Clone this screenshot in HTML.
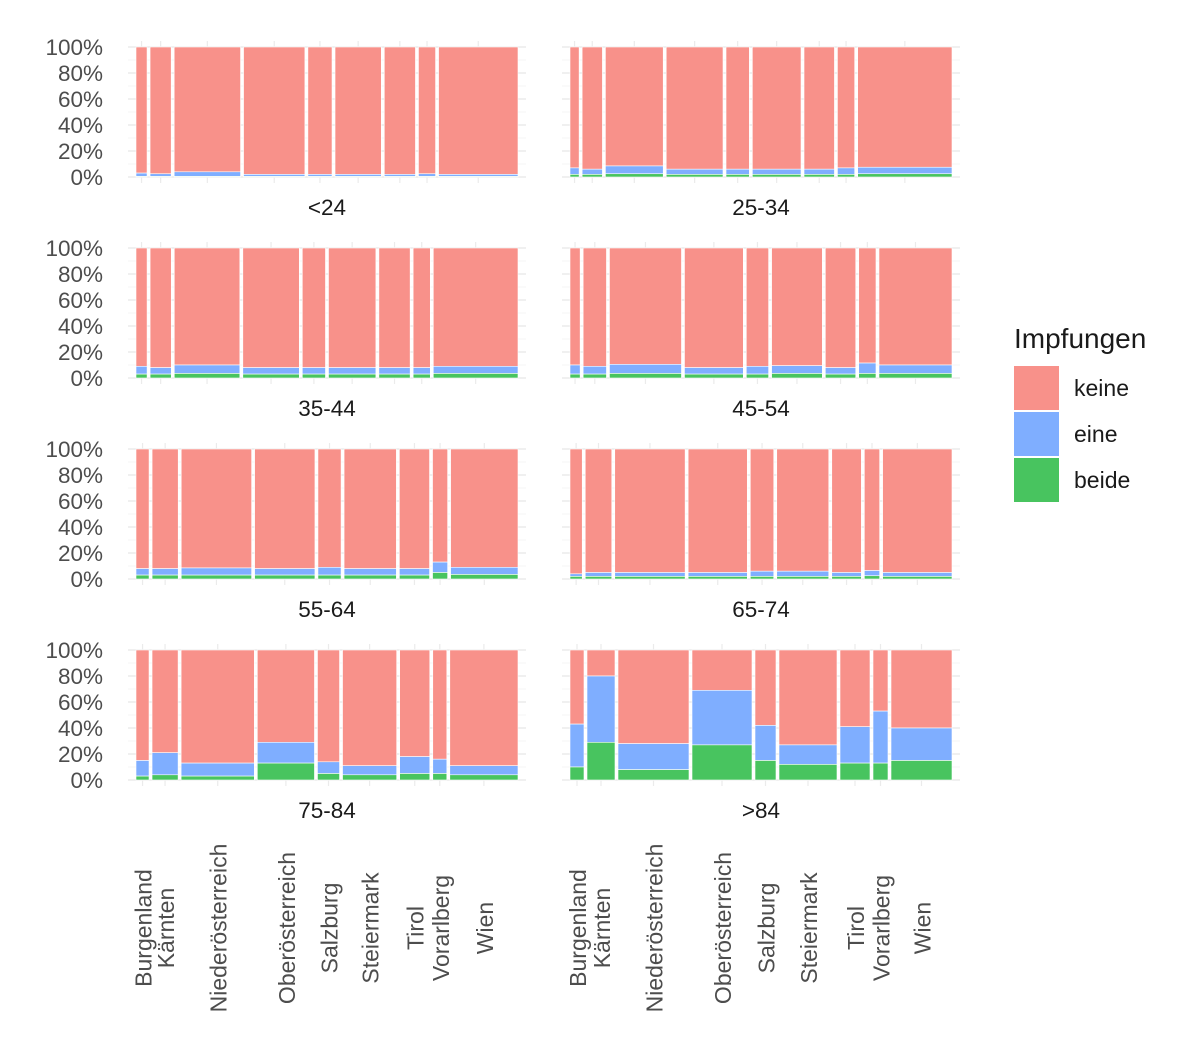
<!DOCTYPE html>
<html><head><meta charset="utf-8"><style>
body{margin:0;background:#fff;font-family:"Liberation Sans",sans-serif;}
svg text{font-family:"Liberation Sans",sans-serif;}
</style></head><body>
<svg id="c" width="1200" height="1052"></svg>
<script>
const states = ["Burgenland","Kärnten","Niederösterreich","Oberösterreich","Salzburg","Steiermark","Tirol","Vorarlberg","Wien"];
const facets = ["<24","25-34","35-44","45-54","55-64","65-74","75-84",">84"];
const widths = [
 [11,21,66,61,24,46,31,17,79],
 [9,20,57,56,23,48,30,17,93],
 [11,21,65,56,23,47,31,17,84],
 [10,23,71,58,22,50,30,17,72],
 [13,26,70,60,23,52,30,15,67],
 [12,26,69,58,23,51,29,15,68],
 [13,26,73,57,22,54,30,14,68],
 [14,28,71,60,21,58,30,15,61]
];
const beide = [
 [0.5,0.5,0.5,0.5,0.5,0.5,0.5,0.5,0.5],
 [2,2,2.5,2,2,2,2,2,2.5],
 [3,3,3.5,3,3,3,3,3,3.5],
 [3,3,3.5,3,3,3.5,3,3.5,3.5],
 [3,3,3,3,3,3,3,5,3.5],
 [2,2,2,2,2,2,2,2.5,2],
 [3,4,3,13,5,4,5,5,4],
 [10,29,8,27,15,12,13,13,15]
];
const eine = [
 [2.5,2,3.5,1.5,1.5,1.5,1.5,2,1.5],
 [5,4,6,4,4,4,4,5,5],
 [6,5,6.5,5,5,5,5,5,5.5],
 [7,6,7,5,6,6,5,8,6.5],
 [5,5,5.5,5,6,5,5,8,5.5],
 [2,3,3,3,4,4,3,4,3],
 [12,17,10,16,9,7,13,11,7],
 [33,51,20,42,27,15,28,40,25]
];
const yTicks = ["0%","20%","40%","60%","80%","100%"];
const legendLabels = ["keine","eine","beide"];
const COL = {keine:"#F8918A", eine:"#7FAEFF", beide:"#48C45F"};
const NS="http://www.w3.org/2000/svg";
const svg=document.getElementById('c');
function mk(t,a,p){const e=document.createElementNS(NS,t);for(const k in a)e.setAttribute(k,a[k]);(p||svg).appendChild(e);return e;}
const colX=[136,570], W=382, rowTop=[47,248,449,650], H=130, GAP=3;
function yS(row,v){return rowTop[row]+H - v/100*H;}
facets.forEach((f,fi)=>{
  const row=Math.floor(fi/2), col=fi%2, x0=colX[col];
  const g=mk('g',{});
  
  
  for(let v=0;v<=100;v+=10){
    const y=yS(row,v);
    mk('line',{x1:x0-8,x2:x0+W+8,y1:y,y2:y,stroke:v%20==0?'#ebebeb':'#f4f4f4','stroke-width':v%20==0?1.6:1},g);
  }
  if(col==0){
    yTicks.forEach((t,i)=>{const tx=mk('text',{x:103,y:yS(row,i*20)+8,'text-anchor':'end','font-size':22.5,fill:'#4d4d4d'},g);tx.textContent=t;
      
      });
  }
  const w=widths[fi], tot=w.reduce((a,b)=>a+b,0), avail=W-GAP*(w.length-1);
  let cx=x0; const centers=[];
  w.forEach((wi,si)=>{
    const bw=wi/tot*avail;
    centers.push(cx+bw/2);
    mk('line',{x1:cx+bw/2,x2:cx+bw/2,y1:rowTop[row]-6,y2:rowTop[row]+H+6,stroke:'#ebebeb','stroke-width':1.2},g);
    const b=beide[fi][si], e=eine[fi][si];
    const segs=[["keine",b+e,100],["eine",b,b+e],["beide",0,b]];
    segs.forEach(s=>{
      const r=mk('rect',{x:cx,y:yS(row,s[2]),width:bw,height:yS(row,s[1])-yS(row,s[2]),fill:COL[s[0]],stroke:'#fff','stroke-width':0.6},g);
      
      
    });
    cx+=bw+GAP;
  });
  const lab=mk('text',{x:x0+W/2,y:rowTop[row]+H+38,'text-anchor':'middle','font-size':22.5,fill:'#1a1a1a'},g);
  lab.textContent=f;
  
  
  if(row==3){
    centers.forEach((c,si)=>{
      const t=mk('text',{x:0,y:0,'text-anchor':'middle','font-size':23,fill:'#4d4d4d',transform:`translate(${c+9},928) rotate(-90)`},g);
      t.textContent=states[si];
      
      
    });
  }
});
const lg=mk('g',{});


const lt=mk('text',{x:1014,y:348,'font-size':28,fill:'#1a1a1a'},lg);lt.textContent="Impfungen";


legendLabels.forEach((l,i)=>{
  const y=366+i*46;
  const r=mk('rect',{x:1014,y:y,width:45,height:44,fill:COL[l]},lg);
  
  
  const t=mk('text',{x:1074,y:y+30,'font-size':23,fill:'#1a1a1a'},lg);t.textContent=l;
  
  
});
</script>
</body></html>
